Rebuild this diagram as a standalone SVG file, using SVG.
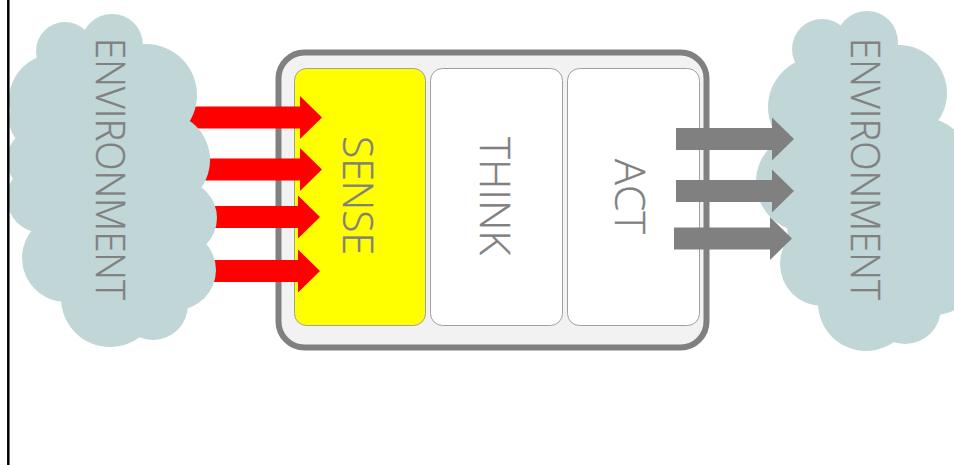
<svg xmlns="http://www.w3.org/2000/svg" width="954" height="465" viewBox="0 0 954 465">
<style>
.cloud{fill:#c1d6d6}
.lbl{font-family:"Open Sans","Noto Sans","Liberation Sans",sans-serif;font-weight:300;fill:#808080;stroke:#808080;stroke-width:.35}
.env{font-size:39.500px}
.stage{font-size:43px}
.box{stroke:#a0a0a0;stroke-width:1;fill:#fff}
.red{fill:#f00}
.grey{fill:#808080}
</style>
<defs>
<path id="ar" d="M0-11H96V-21.500L118 0L96 21.500V11H0Z"/>
<path id="arl" d="M-20-11H96V-21.500L118 0L96 21.500V11H-20Z"/>
</defs>
<rect width="954" height="465" fill="#fff"/>
<g id="system">
<rect x="278.500" y="52.500" width="428" height="295" rx="26" fill="#f2f2f2" stroke="#808080" stroke-width="6"/>
</g>
<g id="sense"><rect class="box" x="294.500" y="68.500" width="131" height="257" rx="12" style="fill:#ff0"/></g>
<g id="think"><rect class="box" x="430.500" y="68.500" width="132" height="257" rx="12"/></g>
<g id="act"><rect class="box" x="567.500" y="68.500" width="132" height="257" rx="12"/></g>
<g id="connectors-in">
<use href="#arl" class="red" x="204" y="117.500"/>
<use href="#arl" class="red" x="204" y="169.500"/>
<use href="#arl" class="red" x="202" y="217"/>
<use href="#arl" class="red" x="202" y="271"/>
</g>
<g id="env-left" class="cloud">
<circle cx="112" cy="45" r="31"/><circle cx="65" cy="51" r="29"/><circle cx="146" cy="95" r="51"/><circle cx="55" cy="100" r="46"/><circle cx="38" cy="120" r="29"/>
<circle cx="162" cy="160" r="48"/><circle cx="40" cy="160" r="33"/><circle cx="42" cy="198" r="35"/><circle cx="179" cy="218" r="38"/><circle cx="176" cy="270" r="40"/>
<circle cx="66" cy="258" r="44"/><circle cx="110" cy="298" r="49"/><circle cx="153" cy="305" r="35"/>
<polygon points="60,60 150,60 170,140 190,270 150,300 70,290 40,220 30,120"/>
</g>
<g id="env-right" class="cloud">
<circle cx="867" cy="42" r="31"/><circle cx="822" cy="49" r="30"/><circle cx="899" cy="93" r="48"/><circle cx="818" cy="107" r="50"/>
<circle cx="925" cy="160" r="42"/><circle cx="806" cy="182" r="50"/><circle cx="955" cy="228" r="42"/><circle cx="935" cy="275" r="40"/>
<circle cx="822" cy="264" r="42"/><circle cx="866" cy="303" r="48"/><circle cx="905" cy="308" r="36"/>
<polygon points="830,60 900,60 940,130 954,190 954,280 900,320 830,300 790,260 780,150"/>
</g>
<g id="connectors-out">
<use href="#ar" class="grey" x="676" y="139"/>
<use href="#ar" class="grey" x="676" y="191"/>
<use href="#ar" class="grey" x="674" y="238.500"/>
</g>
<g id="labels">
<text class="lbl env" transform="translate(96 38) rotate(90)" textLength="262" lengthAdjust="spacingAndGlyphs">ENVIRONMENT</text>
<text class="lbl env" transform="translate(851 38) rotate(90)" textLength="262" lengthAdjust="spacingAndGlyphs">ENVIRONMENT</text>
<text class="lbl stage" transform="translate(343 136) rotate(90)" textLength="119" lengthAdjust="spacingAndGlyphs">SENSE</text>
<text class="lbl stage" transform="translate(480 137) rotate(90)" textLength="118" lengthAdjust="spacingAndGlyphs">THINK</text>
<text class="lbl stage" transform="translate(615 159) rotate(90)" textLength="75" lengthAdjust="spacingAndGlyphs">ACT</text>
</g>
<line id="frame-line" x1="8.300" y1="0" x2="8.300" y2="465" stroke="#000" stroke-width="2.500"/>
</svg>
